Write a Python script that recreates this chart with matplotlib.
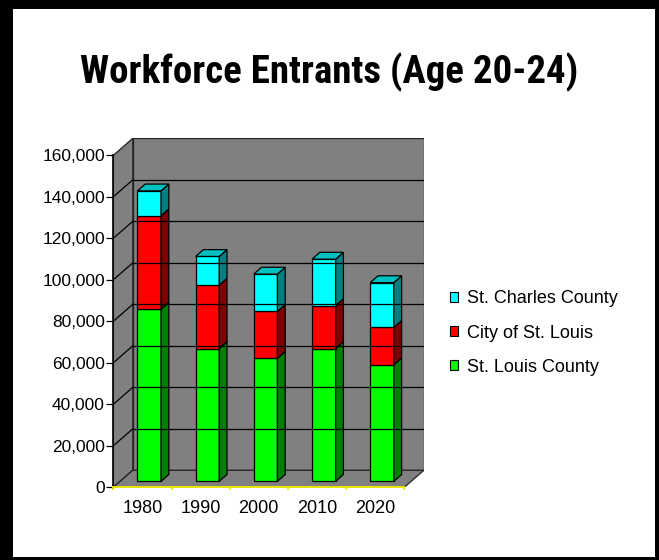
import numpy as np
import matplotlib.pyplot as plt
from matplotlib.patches import Polygon, Rectangle, Patch
from matplotlib.ticker import FuncFormatter

years = ["1980", "1990", "2000", "2010", "2020"]
st_louis_county = [83000, 64000, 59300, 64000, 56200]
city_of_st_louis = [45000, 30600, 22600, 20700, 18000]
st_charles_county = [12000, 13800, 18000, 22400, 21600]

series = [
    ("St. Louis County", st_louis_county, "#00ff00", "#008000", "#00c000"),
    ("City of St. Louis", city_of_st_louis, "#ff0000", "#800000", "#c00000"),
    ("St. Charles County", st_charles_county, "#00ffff", "#008080", "#00c0c0"),
]

Y_MAX = 160000
Y_STEP = 20000
WALL = "#808080"
AXIS_YELLOW = "#e8e800"

# depth of the 3d box in data units
DX = 0.335
DY = 8193
F1, F2 = 0.35, 0.75
BAR_W = 0.405

plt.rcParams["font.family"] = ["Liberation Sans", "DejaVu Sans"]

fig = plt.figure(figsize=(6.59, 5.60), dpi=100)
fig.patch.set_facecolor("black")
fig.add_artist(Rectangle((13 / 659, 3 / 560), 642 / 659, 548 / 560,
                         transform=fig.transFigure, facecolor="white",
                         edgecolor="none", zorder=-10))

ax = fig.add_axes([113.3 / 659, 72.7 / 560, 310.8 / 659, 349 / 560])
ax.set_facecolor("none")
ax.set_xlim(0, 5.34)
ax.set_ylim(0, 168200)

n = len(years)

# walls and floor
ax.add_patch(Polygon([(DX, DY), (n + DX, DY), (n + DX, Y_MAX + DY), (DX, Y_MAX + DY)],
                     closed=True, facecolor=WALL, edgecolor="#222222", lw=0.9))
ax.add_patch(Polygon([(0, 0), (DX, DY), (DX, Y_MAX + DY), (0, Y_MAX)],
                     closed=True, facecolor=WALL, edgecolor="#222222", lw=0.9))
ax.add_patch(Polygon([(0, 0), (n, 0), (n + DX, DY), (DX, DY)],
                     closed=True, facecolor=WALL, edgecolor="#222222", lw=0.9))

for v in range(Y_STEP, Y_MAX, Y_STEP):
    ax.plot([DX, n + DX], [v + DY, v + DY], color="black", lw=0.9)
    ax.plot([0, DX], [v, v + DY], color="black", lw=0.9)

# stacked 3d bars
ox, oy = F1 * DX, F1 * DY
ddx, ddy = (F2 - F1) * DX, (F2 - F1) * DY
for i in range(n):
    x0 = i + 0.5 + ox - BAR_W / 2
    bottom = 0
    for k, (name, vals, front, side, top) in enumerate(series):
        b, t = bottom + oy, bottom + vals[i] + oy
        ax.add_patch(Polygon([(x0, b), (x0 + BAR_W, b), (x0 + BAR_W, t), (x0, t)],
                             closed=True, facecolor=front, edgecolor="black", lw=0.9))
        ax.add_patch(Polygon([(x0 + BAR_W, b), (x0 + BAR_W + ddx, b + ddy),
                              (x0 + BAR_W + ddx, t + ddy), (x0 + BAR_W, t)],
                             closed=True, facecolor=side, edgecolor="black", lw=0.9))
        if k == len(series) - 1:
            ax.add_patch(Polygon([(x0, t), (x0 + BAR_W, t), (x0 + BAR_W + ddx, t + ddy),
                                  (x0 + ddx, t + ddy)],
                                 closed=True, facecolor=top, edgecolor="black", lw=0.9))
        bottom += vals[i]

# axes
for s in ["top", "right"]:
    ax.spines[s].set_visible(False)
ax.spines["left"].set_bounds(0, Y_MAX)
ax.spines["left"].set_color("black")
ax.spines["left"].set_linewidth(1.2)
ax.spines["bottom"].set_bounds(0, n)
ax.spines["bottom"].set_color(AXIS_YELLOW)
ax.spines["bottom"].set_linewidth(1.4)

ax.set_yticks(range(0, Y_MAX + 1, Y_STEP))
ax.yaxis.set_major_formatter(FuncFormatter(lambda v, p: f"{int(v):,}"))
ax.tick_params(axis="y", direction="out", length=5, width=0.9, color="black",
               labelsize=12.5, pad=1)

ax.set_xticks(range(n + 1))
ax.set_xticklabels([])
ax.set_xticks(np.arange(n) + 0.5, minor=True)
ax.set_xticklabels(years, minor=True)
ax.tick_params(axis="x", which="major", direction="out", length=2.5, width=1.2,
               color=AXIS_YELLOW)
ax.tick_params(axis="x", which="minor", length=0, labelsize=13, pad=9)

fig.text(0.4993, 0.871, "Workforce Entrants (Age 20-24)",
         family=["Roboto Condensed", "Liberation Sans Narrow", "Roboto", "DejaVu Sans"],
         fontweight="bold", fontsize=28, ha="center", va="center")

handles = [Patch(facecolor=c, edgecolor="black", lw=0.8) for _, _, c, _, _ in series[::-1]]
labels = [name for name, _, _, _, _ in series[::-1]]
fig.legend(handles, labels, loc="center left", bbox_to_anchor=(434 / 659, 1 - 333 / 560),
           frameon=False, fontsize=13, handlelength=0.45, handleheight=0.45,
           handletextpad=0.5, labelspacing=0.95)

plt.savefig("out.png", dpi=100, facecolor=fig.get_facecolor())
plt.close()
